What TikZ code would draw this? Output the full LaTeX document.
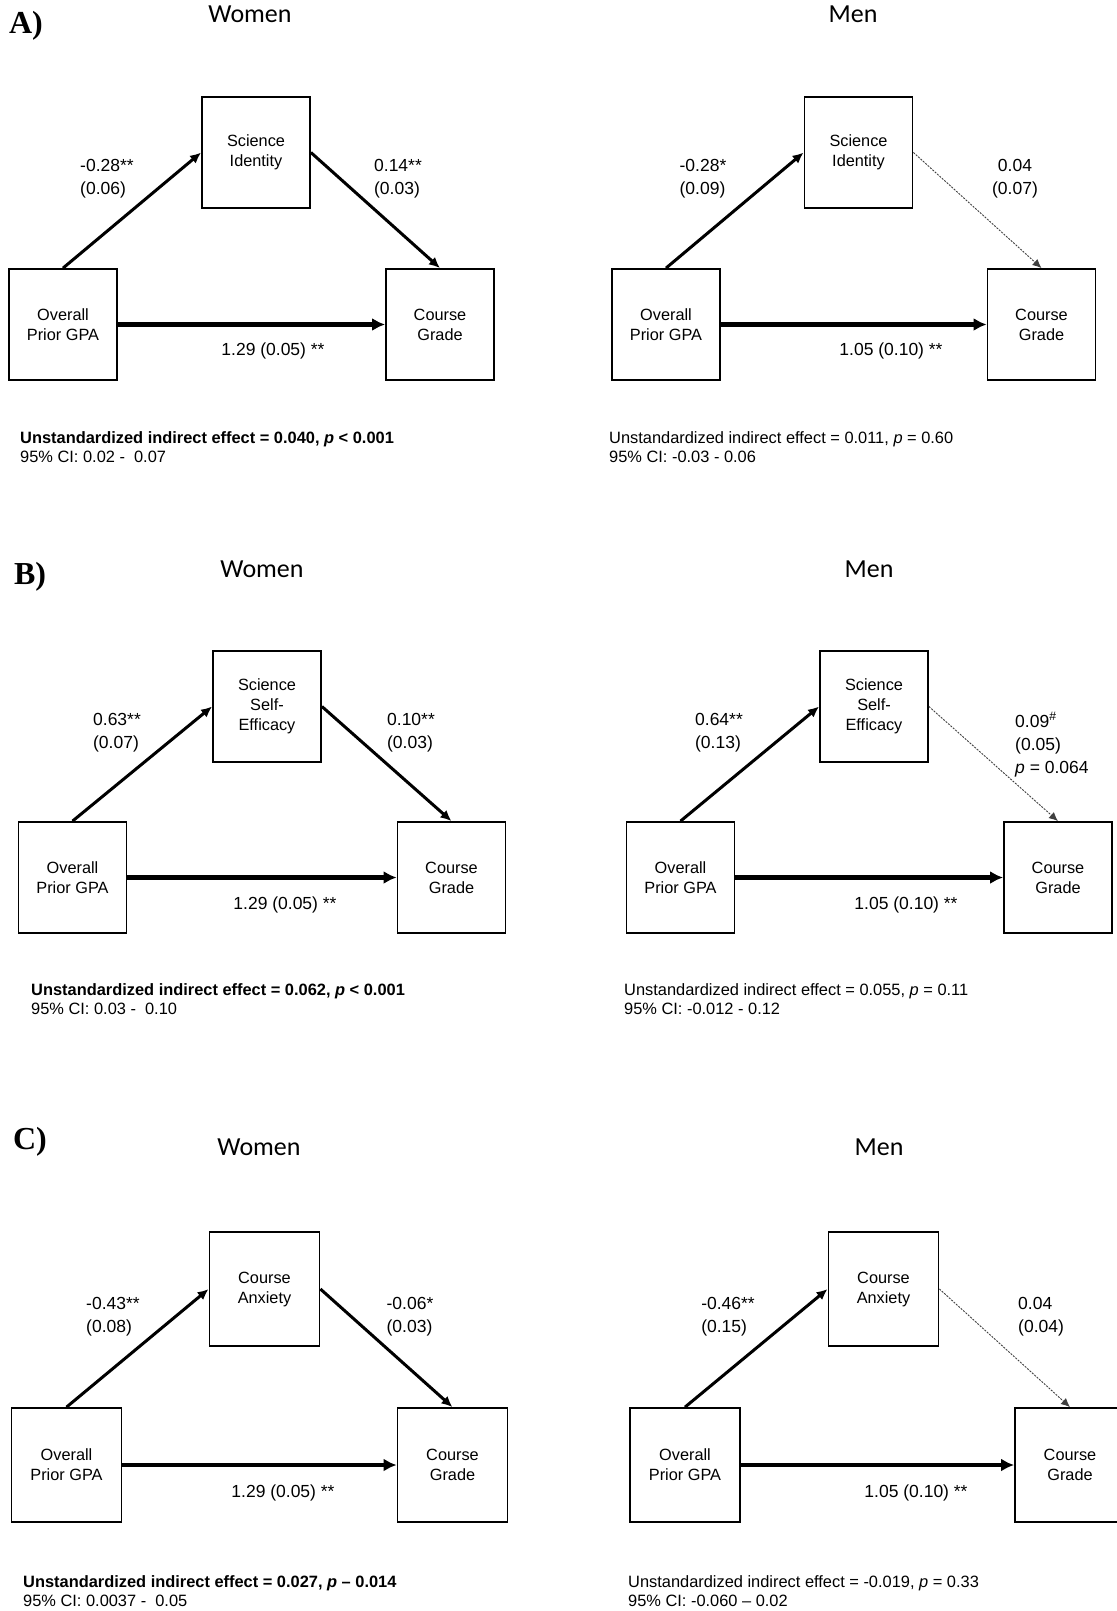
\documentclass[tikz,border=0pt]{standalone}
\usepackage{fontspec}
\setmainfont{Liberation Sans}
\newfontfamily\titlefont{Carlito}
\newfontfamily\letterfont{Liberation Serif}
\usetikzlibrary{arrows.meta, positioning}
\tikzset{
  varbox/.style={rectangle, draw=black, line width=1.8pt, minimum width=108pt,
                 minimum height=111pt, inner sep=0pt, align=center,
                 font=\fontsize{16.3}{20}\selectfont},
  bigbox/.style={varbox, minimum width=110pt, minimum height=114pt},
  coeff/.style={align=left, inner sep=0pt, font=\fontsize{17.5}{23}\selectfont},
  effect/.style={anchor=west, align=left, inner sep=0pt,
                 font=\fontsize{16.4}{18.5}\selectfont},
  grouptitle/.style={inner sep=0pt, font=\titlefont\fontsize{26}{30}\selectfont},
  panelletter/.style={inner sep=0pt, font=\letterfont\bfseries\fontsize{32}{36}\selectfont},
  patharrow/.style={-{Latex[length=11pt,width=10pt]}, line width=3pt},
  directarrow/.style={-{Latex[length=13pt,width=13pt]}, line width=4.2pt},
  weakarrow/.style={-{Latex[length=9pt,width=8pt]}, line width=0.9pt,
                    dash pattern=on 2pt off 1.2pt, black!75}
}

\begin{document}
\begin{tikzpicture}[x=1pt, y=-1pt]
  \useasboundingbox (0,0) rectangle (1116,1611);

  % A) science identity
  \node[panelletter] (letA) at (26,26) {A)};
  \node[grouptitle] (aw-title) at (250,14) {Women};
  \node[grouptitle] (am-title) at (853,14) {Men};

  \node[varbox] (aw-gpa) at (63,324.5) {Overall\\Prior GPA};
  \node[varbox] (aw-med) at (256,152.5) {Science\\Identity};
  \node[varbox] (aw-cg) at (440,324.5) {Course\\Grade};
  \node[coeff] (aw-a) at (107,178.5) {-0.28**\\(0.06)};
  \node[coeff] (aw-b) at (398,178.5) {0.14**\\(0.03)};
  \node[coeff] (aw-c) at (273,351) {1.29 (0.05) **};
  \node[effect] (aw-ind) at (20,447)
      {\bfseries Unstandardized indirect effect = 0.040, \textit{p} < 0.001\\
       95\% CI: 0.02 - \ 0.07};

  \node[varbox] (am-gpa) at (666,324.5) {Overall\\Prior GPA};
  \node[varbox] (am-med) at (858.5,152.5) {Science\\Identity};
  \node[varbox] (am-cg) at (1041.5,324.5) {Course\\Grade};
  \node[coeff] (am-a) at (703,178.5) {-0.28*\\(0.09)};
  \node[coeff, align=center] (am-b) at (1015,178.5) {0.04\\(0.07)};
  \node[coeff] (am-c) at (891,351) {1.05 (0.10) **};
  \node[effect] (am-ind) at (609,447)
      {Unstandardized indirect effect = 0.011, \textit{p} = 0.60\\
       95\% CI: -0.03 - 0.06};

  % B) science self-efficacy
  \node[panelletter] (letB) at (30,577) {B)};
  \node[grouptitle] (bw-title) at (262,569) {Women};
  \node[grouptitle] (bm-title) at (869,569) {Men};

  \node[varbox] (bw-gpa) at (72.5,877.5) {Overall\\Prior GPA};
  \node[varbox] (bw-med) at (267,706.5) {Science\\Self-\\Efficacy};
  \node[varbox] (bw-cg) at (451.5,877.5) {Course\\Grade};
  \node[coeff] (bw-a) at (117,733) {0.63**\\(0.07)};
  \node[coeff] (bw-b) at (411,733) {0.10**\\(0.03)};
  \node[coeff] (bw-c) at (285,905) {1.29 (0.05) **};
  \node[effect] (bw-ind) at (31,999)
      {\bfseries Unstandardized indirect effect = 0.062, \textit{p} < 0.001\\
       95\% CI: 0.03 - \ 0.10};

  \node[varbox] (bm-gpa) at (680.5,877.5) {Overall\\Prior GPA};
  \node[varbox] (bm-med) at (874,706.5) {Science\\Self-\\Efficacy};
  \node[varbox] (bm-cg) at (1058,877.5) {Course\\Grade};
  \node[coeff] (bm-a) at (719,733) {0.64**\\(0.13)};
  \node[coeff, anchor=west] (bm-b) at (1015,744.5)
      {0.09\textsuperscript{\#}\\(0.05)\\\textit{p} = 0.064};
  \node[coeff] (bm-c) at (906,905) {1.05 (0.10) **};
  \node[effect] (bm-ind) at (624,999)
      {Unstandardized indirect effect = 0.055, \textit{p} = 0.11\\
       95\% CI: -0.012 - 0.12};

  % C) course anxiety
  \node[panelletter] (letC) at (30,1142) {C)};
  \node[grouptitle] (cw-title) at (259,1147) {Women};
  \node[grouptitle] (cm-title) at (879,1147) {Men};

  \node[bigbox] (cw-gpa) at (66.5,1465) {Overall\\Prior GPA};
  \node[bigbox] (cw-med) at (264.5,1289) {Course\\Anxiety};
  \node[bigbox] (cw-cg) at (452.5,1465) {Course\\Grade};
  \node[coeff] (cw-a) at (113,1316.5) {-0.43**\\(0.08)};
  \node[coeff] (cw-b) at (410,1316.5) {-0.06*\\(0.03)};
  \node[coeff] (cw-c) at (283,1493) {1.29 (0.05) **};
  \node[effect] (cw-ind) at (23,1591)
      {\bfseries Unstandardized indirect effect = 0.027, \textit{p} -- 0.014\\
       95\% CI: 0.0037 - \ 0.05};

  \node[bigbox] (cm-gpa) at (685,1465) {Overall\\Prior GPA};
  \node[bigbox] (cm-med) at (883.5,1289) {Course\\Anxiety};
  \node[bigbox] (cm-cg) at (1070,1465) {Course\\Grade};
  \node[coeff] (cm-a) at (728,1316.5) {-0.46**\\(0.15)};
  \node[coeff, anchor=west] (cm-b) at (1018,1316.5) {0.04\\(0.04)};
  \node[coeff] (cm-c) at (916,1493) {1.05 (0.10) **};
  \node[effect] (cm-ind) at (628,1591)
      {Unstandardized indirect effect = -0.019, \textit{p} = 0.33\\
       95\% CI: -0.060 -- 0.02};

  % paths
  \foreach \p in {aw,am,bw,bm,cw,cm} {
    \draw[patharrow] (\p-gpa.north) -- (\p-med.west);
    \draw[directarrow] (\p-gpa.east) -- (\p-cg.west);
  }
  \foreach \p in {aw,bw,cw}
    \draw[patharrow] (\p-med.east) -- (\p-cg.north);
  \foreach \p in {am,bm,cm}
    \draw[weakarrow] (\p-med.east) -- (\p-cg.north);
\end{tikzpicture}
\end{document}
